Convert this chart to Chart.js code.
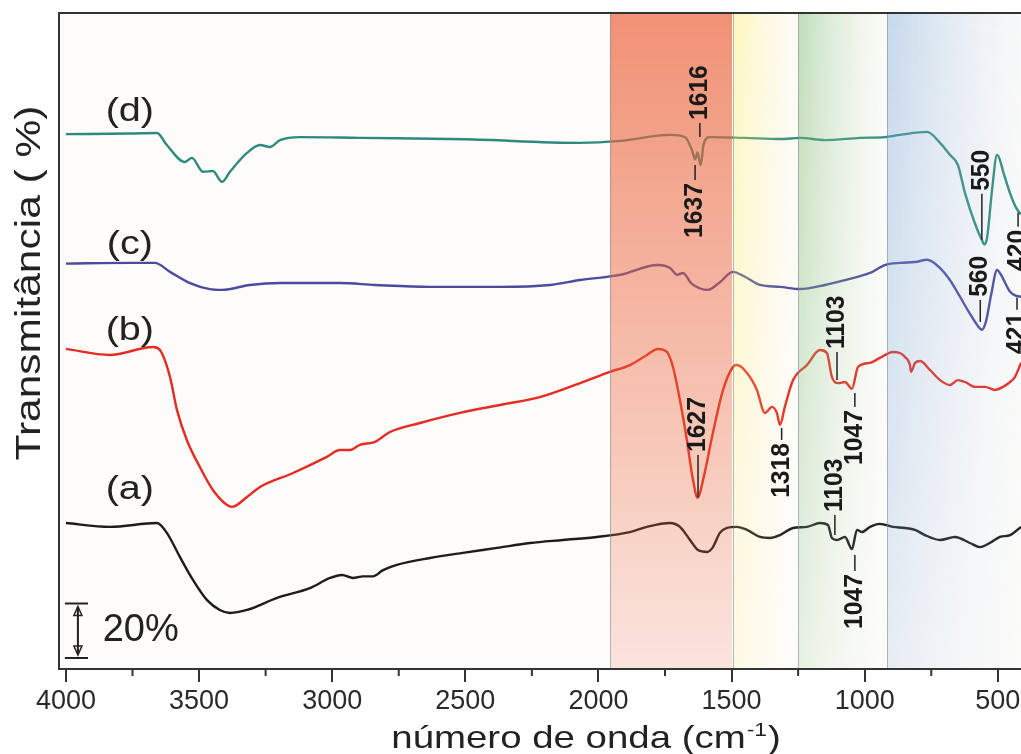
<!DOCTYPE html>
<html>
<head>
<meta charset="utf-8">
<script src="https://cdn.jsdelivr.net/npm/chart.js@4.4.0/dist/chart.umd.min.js"></script>
<style>
  html, body { margin: 0; padding: 0; background: #fff; }
  #wrap { width: 1021px; height: 754px; }
</style>
</head>
<body>
<div id="wrap"><canvas id="ftir" width="1021" height="754"></canvas></div>
<script>
// FTIR spectra (a)-(d), wavenumber in cm-1, transmittance offset in %
const wnA = [4000,3835,3658,3621,3572,3523,3470,3422,3384,3320,3207,3084,3008,2963,2922,2884,2847,2809,2757,2633,2509,2381,2257,2133,2006,1882,1818,1731,1694,1656,1626,1592,1570,1544,1517,1480,1442,1393,1356,1318,1269,1217,1168,1138,1123,1104,1074,1048,1029,1010,980,943,894,849,811,774,717,661,605,567,530,492,454,413];
const tA  = [53.4,52.0,53.4,49.8,41.0,32.6,25.2,21.6,20.5,21.6,26.0,29.6,33.3,34.4,33.3,33.9,33.9,36.2,38.1,40.6,42.5,44.3,46.1,47.2,48.3,50.1,52.0,53.4,52.0,47.2,43.5,42.8,44.6,49.8,51.6,52.0,50.9,48.3,47.9,49.0,51.6,52.0,53.4,52.7,47.9,47.2,48.3,43.9,50.9,50.1,52.0,53.1,52.0,51.6,50.9,49.0,47.2,48.3,46.1,44.6,46.1,48.3,49.0,52.0];

const wnB = [4000,3835,3673,3647,3609,3583,3546,3497,3448,3395,3377,3320,3271,3147,3020,2971,2933,2896,2839,2783,2670,2520,2370,2220,2069,1957,1882,1818,1777,1743,1720,1694,1668,1645,1627,1607,1570,1532,1495,1480,1442,1405,1375,1348,1330,1318,1300,1269,1217,1168,1142,1123,1100,1074,1048,1025,980,943,894,868,849,830,826,811,792,755,717,680,650,623,586,548,511,481,454,436,413];
const tB  = [117.1,114.9,117.8,116.7,106.8,94.8,83.8,73.9,65.5,60.0,59.3,62.9,66.6,71.7,77.6,80.1,80.1,82.0,83.1,86.7,90.0,93.7,96.6,99.5,104.6,108.7,111.2,114.9,117.1,116.0,110.5,98.4,83.8,69.2,62.6,69.2,86.4,102.1,110.5,111.2,108.3,102.1,93.7,95.9,93.7,89.3,95.9,105.7,111.2,116.7,115.6,106.8,104.6,105.0,102.5,110.5,112.0,113.8,116.0,115.6,114.2,111.2,108.7,112.0,112.7,109.4,105.7,103.9,105.7,105.0,103.2,103.2,102.1,103.2,105.0,106.8,112.0];

const wnC = [4000,3760,3666,3609,3534,3460,3414,3309,3196,2971,2839,2633,2370,2182,2069,1919,1777,1731,1704,1683,1650,1589,1544,1495,1450,1393,1318,1243,1149,1074,980,924,868,811,766,717,680,650,605,575,560,545,525,503,490,454,430,413];
const tC  = [148.3,148.6,148.6,145.3,141.2,139.0,138.7,140.5,141.2,141.2,140.5,139.8,139.8,140.5,142.3,144.2,147.8,146.7,144.2,144.9,141.0,138.7,141.5,145.3,143.5,140.5,139.8,139.0,140.5,142.3,144.9,147.8,148.6,148.9,149.7,146.7,142.3,137.5,130.0,125.5,124.1,127.0,137.0,146.0,144.5,138.0,136.5,136.2];

const wnD = [4000,3760,3658,3621,3553,3527,3485,3448,3414,3384,3320,3271,3234,3196,3121,2896,2500,2069,1919,1731,1675,1649,1637,1628,1616,1605,1581,1450,1318,1243,1149,1018,924,868,766,717,680,650,623,586,560,550,540,522,503,495,480,454,430,413];
const tD  = [195.7,195.9,196.1,191.7,185.5,187.0,181.9,182.2,178.2,181.9,188.8,191.7,191.0,193.5,194.6,194.3,193.8,192.5,193.2,195.4,194.6,189.9,186.5,189.0,184.4,192.0,194.6,194.3,193.9,194.3,193.5,194.3,194.6,195.4,196.5,192.5,188.1,184.4,174.0,163.0,157.0,155.3,158.0,175.0,188.1,187.0,182.0,174.0,168.5,166.3];

const seriesNames = ['(a)', '(b)', '(c)', '(d)'];
const nameY = [65.5, 123.7, 155.1, 203.8];   // where each name sits, in %
const xTicks = [4000, 3500, 3000, 2500, 2000, 1500, 1000, 500];
const xMinor = [3750, 3250, 2750, 2250, 1750, 1250, 750];
const bandEdges = [1955, 1495, 1250, 915, 413];

// peak labels: text, wavenumber where it sits, % where its dash starts, direction
const peaks = [
  { txt: '1616', at: 1619, y: 194.6, dir:  1, dash: 14 },
  { txt: '1637', at: 1637, y: 184.4, dir: -1, dash: 15 },
  { txt: '550',  at: 560,  y: 157.0, dir:  1, dash: 46 },
  { txt: '560',  at: 566,  y: 127.0, dir:  1, dash: 22 },
  { txt: '420',  at: 424,  y: 166.9, dir: -1, dash: 14 },
  { txt: '421',  at: 428,  y: 135.8, dir: -1, dash: 12 },
  { txt: '1627', at: 1626, y: 62.9,  dir:  1, dash: 42 },
  { txt: '1318', at: 1312, y: 88.2,  dir: -1, dash: 12 },
  { txt: '1103', at: 1104, y: 105.7, dir:  1, dash: 28 },
  { txt: '1047', at: 1037, y: 101.0, dir: -1, dash: 14 },
  { txt: '1103', at: 1112, y: 49.0,  dir:  1, dash: 20 },
  { txt: '1047', at: 1037, y: 41.7,  dir: -1, dash: 16 }
];

const colors = ['#1c1c1c', '#e52b22', '#4a4a9e', '#2f8a7e'];
const bandStyle = [
  { left: 'rgba(235,100,60,0.70)',  right: 'rgba(235,100,60,0.70)',  fade: 0.22 },
  { left: 'rgba(255,238,100,0.40)', right: 'rgba(255,245,170,0.03)', fade: 0.35 },
  { left: 'rgba(130,190,120,0.50)', right: 'rgba(200,225,190,0.03)', fade: 0.35 },
  { left: 'rgba(120,165,215,0.42)', right: 'rgba(190,210,235,0.08)', fade: 0.40 }
];
const FONT = '"Liberation Sans", Arial, sans-serif';

function pts(wn, t) {
  return wn.map((w, i) => ({ x: w, y: t[i] }));
}

function drawText(ctx, txt, x, y, o) {
  ctx.save();
  ctx.translate(x, y);
  if (o.rot) ctx.rotate(o.rot);
  ctx.font = o.font;
  let sx = o.sx || 1;
  if (o.width) sx = o.width / ctx.measureText(txt).width;
  ctx.scale(sx, 1);
  ctx.fillStyle = o.color || '#1a1a1a';
  ctx.textAlign = o.align || 'center';
  ctx.textBaseline = o.base || 'middle';
  ctx.fillText(txt, 0, 0);
  ctx.restore();
}

function paintBand(ctx, x0, x1, top, bottom, st) {
  const w = Math.max(1, Math.round(x1 - x0)), h = Math.round(bottom - top);
  const off = document.createElement('canvas');
  off.width = w; off.height = h;
  const o = off.getContext('2d');
  const g = o.createLinearGradient(0, 0, w, 0);
  g.addColorStop(0, st.left);
  g.addColorStop(1, st.right);
  o.fillStyle = g;
  o.fillRect(0, 0, w, h);
  o.globalCompositeOperation = 'destination-in';
  const v = o.createLinearGradient(0, 0, 0, h);
  v.addColorStop(0, 'rgba(0,0,0,1)');
  v.addColorStop(1, 'rgba(0,0,0,' + st.fade + ')');
  o.fillStyle = v;
  o.fillRect(0, 0, w, h);
  ctx.drawImage(off, Math.round(x0), Math.round(top));
}

const spectraPlugin = {
  id: 'spectra',
  beforeDraw(chart) {
    const { ctx, chartArea: a } = chart;
    ctx.save();
    ctx.fillStyle = '#fdfcfa';
    ctx.fillRect(a.left, a.top, a.right - a.left, a.bottom - a.top);
    ctx.restore();
  },
  afterDatasetsDraw(chart) {
    const { ctx, chartArea: a, scales: { x } } = chart;
    ctx.save();
    for (let i = 0; i < bandEdges.length - 1; i++) {
      const x0 = x.getPixelForValue(bandEdges[i]);
      const x1 = Math.min(a.right, x.getPixelForValue(bandEdges[i + 1]));
      paintBand(ctx, x0, x1, a.top, a.bottom, bandStyle[i]);
    }
    // thin edges of the bands
    ctx.strokeStyle = 'rgba(120,135,145,0.55)';
    ctx.lineWidth = 1;
    bandEdges.slice(0, 4).forEach(e => {
      const px = Math.round(x.getPixelForValue(e)) + 0.5;
      ctx.beginPath(); ctx.moveTo(px, a.top); ctx.lineTo(px, a.bottom); ctx.stroke();
    });
    ctx.restore();
  },
  afterDraw(chart) {
    const { ctx, chartArea: a, scales: { x, y } } = chart;
    ctx.save();

    // frame: left, top, bottom
    ctx.strokeStyle = '#333';
    ctx.lineWidth = 2;
    ctx.beginPath();
    ctx.moveTo(a.left, a.bottom); ctx.lineTo(a.left, a.top); ctx.lineTo(a.right, a.top);
    ctx.moveTo(a.left - 1, a.bottom); ctx.lineTo(a.right, a.bottom);
    ctx.stroke();

    // minor ticks
    xMinor.forEach(v => {
      const px = x.getPixelForValue(v);
      ctx.beginPath(); ctx.moveTo(px, a.bottom); ctx.lineTo(px, a.bottom + 7); ctx.stroke();
    });

    // peak labels
    ctx.lineWidth = 1.5;
    ctx.strokeStyle = '#222';
    peaks.forEach(p => {
      const px = x.getPixelForValue(p.at);
      const py = y.getPixelForValue(p.y);
      const end = py - p.dir * p.dash;
      ctx.beginPath(); ctx.moveTo(px, py); ctx.lineTo(px, end); ctx.stroke();
      drawText(ctx, p.txt, px, end - p.dir * 3, {
        font: 'bold 26px ' + FONT, sx: 0.95, rot: -Math.PI / 2,
        align: p.dir > 0 ? 'left' : 'right', color: '#1a1a1a'
      });
    });

    // series names
    seriesNames.forEach((n, i) => {
      drawText(ctx, n, x.getPixelForValue(3760), y.getPixelForValue(nameY[i]),
        { font: '33px ' + FONT, sx: 1.2, color: '#222' });
    });

    // 20 % scale bar
    const bx = x.getPixelForValue(3955);
    const bl = x.getPixelForValue(4004), br = x.getPixelForValue(3917);
    const bt = y.getPixelForValue(24), bb = y.getPixelForValue(4);
    ctx.strokeStyle = '#222';
    ctx.fillStyle = '#222';
    ctx.lineWidth = 2;
    ctx.beginPath();
    ctx.moveTo(bl, bt); ctx.lineTo(br, bt);
    ctx.moveTo(bl, bb); ctx.lineTo(br, bb);
    ctx.moveTo(bx, bt + 4); ctx.lineTo(bx, bb - 4);
    ctx.stroke();
    ctx.lineWidth = 1.5;
    ctx.beginPath();
    ctx.moveTo(bx, bt + 3); ctx.lineTo(bx - 4, bt + 12); ctx.lineTo(bx + 4, bt + 12); ctx.closePath();
    ctx.moveTo(bx, bb - 3); ctx.lineTo(bx - 4, bb - 12); ctx.lineTo(bx + 4, bb - 12); ctx.closePath();
    ctx.stroke();
    drawText(ctx, '20%', x.getPixelForValue(3862), y.getPixelForValue(14),
      { font: '38px ' + FONT, align: 'left', color: '#222' });

    // axis titles
    drawText(ctx, 'Transmitância ( %)', 30, 283,
      { font: '35px ' + FONT, width: 355, rot: -Math.PI / 2, color: '#222' });

    ctx.font = '32px ' + FONT;
    const sx = 1.2;
    const w1 = ctx.measureText('número de onda (cm').width * sx;
    ctx.font = '19px ' + FONT;
    const w2 = ctx.measureText('-1').width * sx;
    ctx.font = '32px ' + FONT;
    const w3 = ctx.measureText(')').width * sx;
    let tx = 585 - (w1 + w2 + w3) / 2;
    drawText(ctx, 'número de onda (cm', tx, 748, { font: '32px ' + FONT, sx, align: 'left', base: 'alphabetic', color: '#222' });
    drawText(ctx, '-1', tx + w1 + 1, 736, { font: '19px ' + FONT, sx, align: 'left', base: 'alphabetic', color: '#222' });
    drawText(ctx, ')', tx + w1 + w2 + 2, 748, { font: '32px ' + FONT, sx, align: 'left', base: 'alphabetic', color: '#222' });

    ctx.restore();
  }
};

Chart.defaults.font.family = FONT;

const series = [pts(wnA, tA), pts(wnB, tB), pts(wnC, tC), pts(wnD, tD)];

new Chart(document.getElementById('ftir'), {
  type: 'line',
  data: {
    datasets: series.map((d, i) => ({
      label: seriesNames[i],
      data: d,
      borderColor: colors[i],
      borderWidth: 2.4,
      pointRadius: 0,
      cubicInterpolationMode: 'monotone',
      fill: false
    }))
  },
  options: {
    responsive: false,
    animation: false,
    layout: { padding: { left: 59, top: 13, right: 0, bottom: 0 } },
    plugins: { legend: { display: false }, tooltip: { enabled: false } },
    scales: {
      x: {
        type: 'linear',
        reverse: true,
        min: 413,
        max: 4026,
        afterBuildTicks: s => { s.ticks = xTicks.map(v => ({ value: v })); },
        afterFit: s => { s.height = 85; s.paddingLeft = 0; s.paddingRight = 0; },
        ticks: { autoSkip: false, maxRotation: 0, padding: 3, color: '#2a2a2a', font: { size: 27 },
                 callback: v => String(v) },
        grid: { drawOnChartArea: false, tickLength: 13, color: '#333', lineWidth: 2 },
        border: { display: false }
      },
      y: { display: false, min: 0, max: 240 }
    }
  },
  plugins: [spectraPlugin]
});
</script>
</body>
</html>
